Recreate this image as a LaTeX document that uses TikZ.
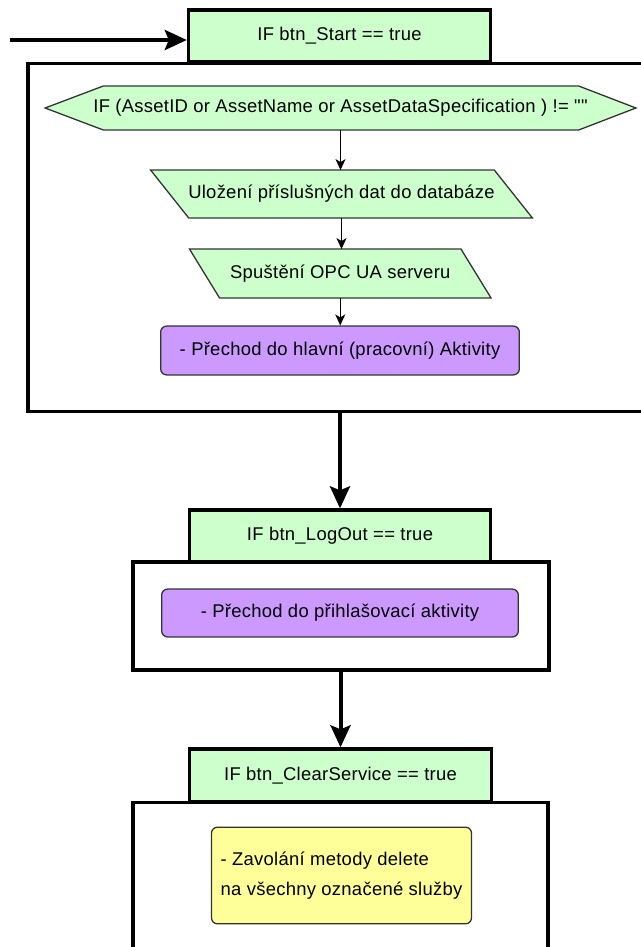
\documentclass[tikz,border=0pt]{standalone}
\usepackage{fontspec}
\setmainfont[LetterSpace=1.5]{Liberation Sans}
\usetikzlibrary{arrows.meta,backgrounds,calc}
\definecolor{gfill}{HTML}{CCFFCC}
\definecolor{pfill}{HTML}{CC99FF}
\definecolor{yfill}{HTML}{FFFF99}
\definecolor{edge}{HTML}{333333}
\tikzset{
  bigbox/.style={draw=black, line width=3.5bp, rectangle, inner sep=0pt},
  gbox/.style={draw=black, fill=gfill, line width=3.5bp, rectangle, inner sep=0pt},
  ptext/.style={rectangle, inner sep=0pt, outer sep=0pt},
  shapeline/.style={draw=edge, fill=gfill, line width=1.3bp, line join=miter},
  pbox/.style={draw=edge, fill=pfill, line width=1.3bp, rounded corners=6bp, rectangle, inner sep=0pt},
  ybox/.style={draw=edge, fill=yfill, line width=1.3bp, rounded corners=6bp, rectangle, inner sep=0pt},
  thinarrow/.style={draw=black, line width=1.3bp, -{Stealth[length=11bp,width=10bp,inset=3bp]}},
  thickarrow/.style={draw=black, line width=4bp, -{Stealth[length=22bp,width=20bp,inset=4bp]}},
}
\begin{document}
\begin{tikzpicture}[x=1bp, y=-1bp, font=\fontsize{18.5}{22}\selectfont]
\useasboundingbox (0,0) rectangle (641,947);
% big containers
\node[bigbox, minimum width=640, minimum height=349] (b1) at (347,237.5) {};
\node[bigbox, minimum width=418, minimum height=108] (b2) at (341,616) {};
\node[bigbox, minimum width=417, minimum height=170] (b3) at (340.5,887) {};
% header boxes
\node[gbox, minimum width=303, minimum height=52] (g1) at (339.5,36) {IF btn\_Start == true};
\node[gbox, minimum width=302, minimum height=52] (g2) at (340,536) {IF btn\_LogOut == true};
\node[gbox, minimum width=303, minimum height=53] (g3) at (340.5,775.5) {IF btn\_ClearService == true};
% inner text nodes
\node[ptext, minimum width=593, minimum height=44] (hex) at (340.5,108) {IF (AssetID or AssetName or AssetDataSpecification ) != {\addfontfeatures{Ligatures=TeXOff}""}};
\node[ptext, minimum width=345, minimum height=48] (p1) at (341.5,194) {Uložení příslušných dat do databáze};
\node[ptext, minimum width=272.5, minimum height=49] (p2) at (340.25,273.5) {Spuštění OPC UA serveru};
\node[pbox, minimum width=360, minimum height=49] (r1) at (340,350.5) {- Přechod do hlavní (pracovní) Aktivity};
\node[pbox, minimum width=358, minimum height=48] (r2) at (340,613) {- Přechod do přihlašovací aktivity};
\node[ybox, minimum width=261, minimum height=97, align=left, font=\fontsize{18.5}{30}\selectfont] (y1) at (341.5,875.5) {- Zavolání metody delete\\na všechny označené služby};
\begin{scope}[on background layer]
\path[shapeline] (hex.west) -- ($(hex.north west)+(58,0)$) -- ($(hex.north east)+(-57,0)$) -- (hex.east) -- ($(hex.south east)+(-57,0)$) -- ($(hex.south west)+(58,0)$) -- cycle;
\path[shapeline] ($(p1.north west)+(-19,0)$) -- ($(p1.north east)+(-19,0)$) -- ($(p1.south east)+(19,0)$) -- ($(p1.south west)+(19,0)$) -- cycle;
\path[shapeline] ($(p2.north west)+(-15,0)$) -- ($(p2.north east)+(-15,0)$) -- ($(p2.south east)+(15,0)$) -- ($(p2.south west)+(15,0)$) -- cycle;
\end{scope}
% connectors
\coordinate (start) at (10,40);
\draw[thickarrow] (start) -- (start -| g1.west);
\draw[thinarrow] (hex.south) -- (hex.south |- p1.north);
\draw[thinarrow] (p1.south) -- (p1.south |- p2.north);
\draw[thinarrow] (p2.south) -- (p2.south |- r1.north);
\draw[thickarrow] (g2.north |- b1.south) -- (g2.north);
\draw[thickarrow] (g3.north |- b2.south) -- (g3.north);
\end{tikzpicture}
\end{document}
